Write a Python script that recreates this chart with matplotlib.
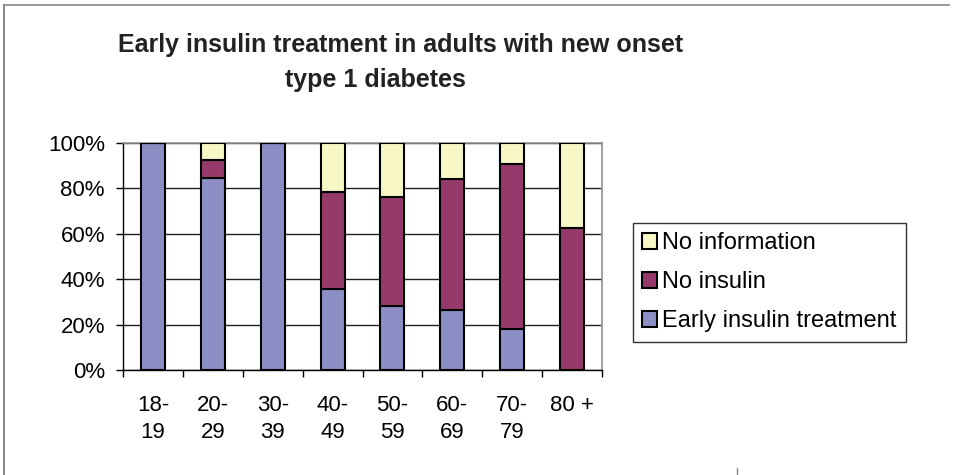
import matplotlib
matplotlib.use("Agg")
import matplotlib.pyplot as plt
from matplotlib.lines import Line2D
from matplotlib.patches import Patch
import numpy as np

plt.rcParams['font.family'] = ['Liberation Sans', 'DejaVu Sans']

# data (percent of patients per age group)
age_groups = ['18-\n19', '20-\n29', '30-\n39', '40-\n49', '50-\n59', '60-\n69', '70-\n79', '80 +']
early_insulin = [100, 84.6, 100, 35.7, 28.0, 26.3, 18.2, 0]
no_insulin = [0, 7.7, 0, 42.9, 48.0, 57.9, 72.7, 62.5]
no_information = [0, 7.7, 0, 21.4, 24.0, 15.8, 9.1, 37.5]

series_names = ['Early insulin treatment', 'No insulin', 'No information']
colors = ['#8b8fc6', '#963a6c', '#f8f7c6']

W, H = 956, 475
fig = plt.figure(figsize=(W / 100, H / 100), dpi=100)
ax = fig.add_axes([123 / W, 1 - 370 / H, (602 - 123) / W, (370 - 143) / H])

x = np.arange(len(age_groups))
bottom = np.zeros(len(age_groups))
handles = []
for vals, name, col in zip([early_insulin, no_insulin, no_information], series_names, colors):
    vals = np.array(vals)
    ax.bar(x, vals, width=0.4, bottom=bottom, color=col, edgecolor='black',
           linewidth=1.5, zorder=3)
    bottom += vals
    handles.append(Patch(facecolor=col, edgecolor='black', linewidth=1.5, label=name))

ax.set_xlim(-0.5, len(age_groups) - 0.5)
ax.set_ylim(0, 100)
ax.set_yticks(range(0, 101, 20))
ax.set_yticklabels([f'{v}%' for v in range(0, 101, 20)], fontsize=16)
ax.set_xticks(x)
ax.set_xticklabels(age_groups, fontsize=16, linespacing=1.35)
ax.set_xticks(np.arange(-0.5, len(age_groups)), minor=True)
ax.tick_params(axis='x', which='major', length=0, pad=18)
ax.tick_params(axis='x', which='minor', length=5, width=1, direction='out')
ax.tick_params(axis='y', length=5, width=1, direction='out', pad=8)

ax.yaxis.grid(True, color='#222222', linewidth=1, zorder=0)
ax.set_axisbelow(True)
for side in ['top', 'right']:
    ax.spines[side].set_color('#909090')
    ax.spines[side].set_linewidth(1.2)
for side in ['left', 'bottom']:
    ax.spines[side].set_color('black')
    ax.spines[side].set_linewidth(1)

# legend, top entry first as in the reference
leg = fig.legend(handles=handles[::-1], loc='upper left',
                 bbox_to_anchor=(633 / W, 1 - 223 / H), fontsize=17,
                 frameon=True, fancybox=False, edgecolor='black',
                 handlelength=0.62, handleheight=0.62, handletextpad=0.2,
                 labelspacing=0.72, borderpad=0.4, borderaxespad=0)
leg.get_frame().set_linewidth(1)

fig.text(401 / W, 1 - 45 / H, 'Early insulin treatment in adults with new onset',
         ha='center', va='center', fontsize=18, fontweight='bold', color='#222222')
fig.text(375 / W, 1 - 80 / H, 'type 1 diabetes',
         ha='center', va='center', fontsize=18, fontweight='bold', color='#222222')

# outer chart frame (only top and left edge visible)
fig.add_artist(Line2D([4 / W, 949 / W], [1 - 5 / H, 1 - 5 / H], color='#888888', linewidth=1.2))
fig.add_artist(Line2D([4 / W, 4 / W], [1 - 5 / H, 0], color='#888888', linewidth=1.5))
fig.add_artist(Line2D([737 / W, 737 / W], [1 - 468 / H, 1 - 475 / H], color='#888888', linewidth=1))

fig.savefig('out.png', dpi=100, facecolor='white')
